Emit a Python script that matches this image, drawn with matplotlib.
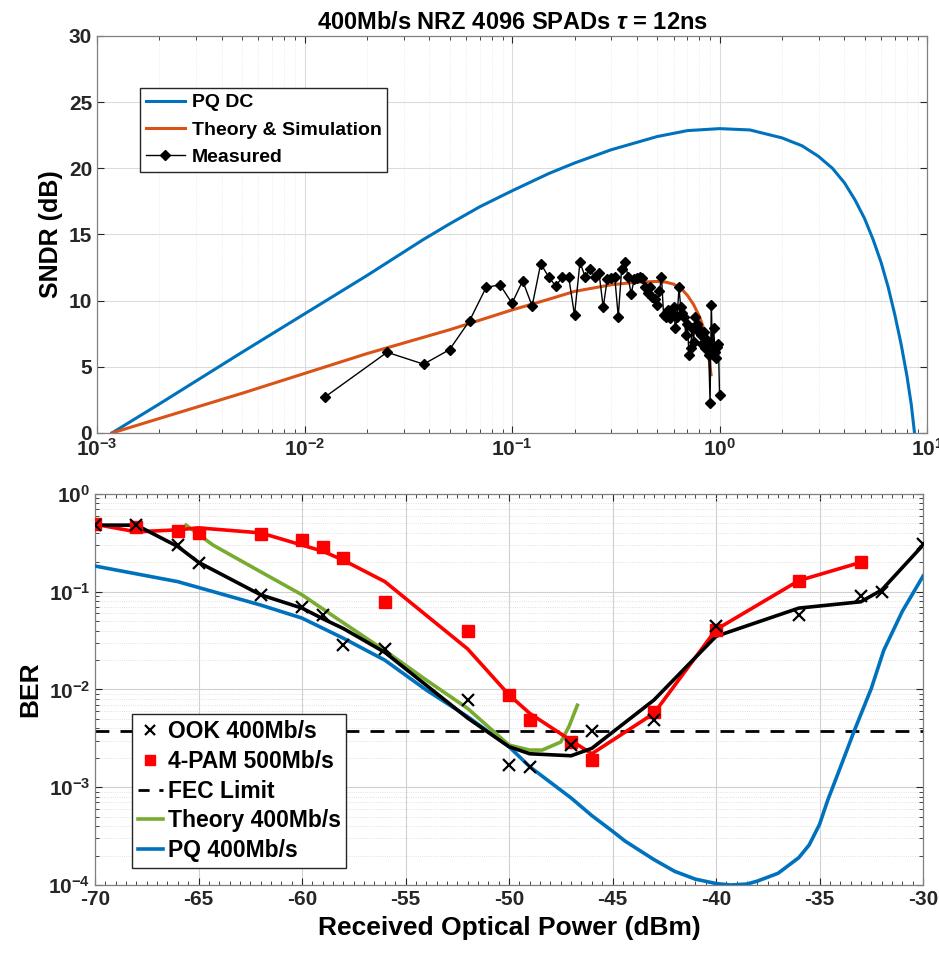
import numpy as np
import matplotlib
matplotlib.use('Agg')
import matplotlib.pyplot as plt
from matplotlib.ticker import LogLocator, MultipleLocator, NullFormatter

plt.rcParams['font.family'] = ['Liberation Sans', 'DejaVu Sans']
plt.rcParams['font.weight'] = 'bold'
plt.rcParams['mathtext.fontset'] = 'custom'
plt.rcParams['mathtext.rm'] = 'Liberation Sans:bold'
plt.rcParams['mathtext.bf'] = 'Liberation Sans:bold'
plt.rcParams['mathtext.it'] = 'Liberation Sans:italic:bold'
plt.rcParams['axes.unicode_minus'] = False

# ---- top panel: SNDR vs x (log) ----
pq_dc_x = [0.00118, 0.002, 0.005, 0.01, 0.02, 0.0372, 0.05, 0.07, 0.1, 0.15, 0.2, 0.3,
           0.5, 0.7, 1.0, 1.4, 2.0, 2.5, 3.0, 3.5, 4.0, 4.5, 5.0, 5.5, 6.0, 6.5,
           7.0, 7.5, 8.0, 8.4, 8.7]
pq_dc_y = [0.0, 2.2, 6.1, 9.0, 11.9, 14.6, 15.8, 17.1, 18.3, 19.6, 20.4, 21.4,
           22.4, 22.85, 23.0, 22.9, 22.3, 21.7, 20.9, 20.0, 18.9, 17.6, 16.2, 14.6, 12.9, 11.0,
           8.9, 6.7, 4.3, 2.1, 0.0]

theory_x = [0.00118, 0.002, 0.005, 0.01, 0.02, 0.05, 0.1, 0.15, 0.2, 0.3, 0.4, 0.5,
            0.55, 0.6, 0.65, 0.7, 0.75, 0.8, 0.83, 0.86, 0.89, 0.91]
theory_y = [0.0, 1.1, 3.0, 4.5, 6.0, 7.8, 9.3, 10.1, 10.7, 11.2, 11.4, 11.45,
            11.4, 11.25, 10.95, 10.4, 9.7, 8.8, 8.1, 7.0, 5.6, 4.4]

meas_x = [0.0125, 0.025, 0.0375, 0.05, 0.0625, 0.075, 0.0875, 0.1, 0.1125, 0.125,
          0.1375, 0.15, 0.1625, 0.175, 0.1875, 0.2, 0.2125, 0.225, 0.2375, 0.25,
          0.2625, 0.275, 0.2875, 0.3, 0.3125, 0.325, 0.3375, 0.35, 0.3625, 0.375,
          0.3875, 0.4, 0.4125, 0.425, 0.4375, 0.45, 0.4625, 0.475, 0.4875, 0.5,
          0.5125, 0.525, 0.5375, 0.55, 0.5625, 0.575, 0.5875, 0.6, 0.6125, 0.625,
          0.6375, 0.65, 0.6625, 0.675, 0.6875, 0.7, 0.7125, 0.725, 0.7375, 0.75,
          0.7625, 0.775, 0.7875, 0.8, 0.8125, 0.825, 0.8375, 0.85, 0.8625, 0.875,
          0.8875, 0.9, 0.9125, 0.925, 0.9375, 0.95, 0.9625, 0.975, 0.9875, 1.0]
meas_y = [2.7, 6.1, 5.2, 6.3, 8.5, 11.0, 11.2, 9.8, 11.5, 9.6,
          12.8, 11.8, 11.1, 11.8, 11.8, 8.9, 12.9, 11.8, 12.4, 11.8,
          12.1, 9.5, 11.6, 11.7, 11.8, 8.8, 12.4, 12.9, 11.8, 10.5,
          11.6, 11.7, 11.8, 11.7, 11.0, 10.6, 11.0, 10.3, 10.1, 9.7,
          10.7, 11.8, 8.9, 8.8, 9.3, 8.7, 9.1, 9.5, 7.9, 8.8,
          11.0, 9.5, 9.1, 8.8, 7.4, 8.2, 5.9, 6.4, 7.9, 6.9,
          8.8, 8.2, 7.9, 7.6, 7.4, 6.7, 7.6, 6.4, 7.1, 6.7,
          5.9, 2.3, 9.7, 6.2, 7.9, 6.1, 5.7, 6.5, 6.7, 2.9]

# ---- bottom panel: BER vs received power ----
ook_x = [-70, -68, -66, -65, -62, -60, -59, -58, -56, -52,
         -50, -49, -47, -46, -43, -40, -36, -33, -32, -30]
ook_ber = [0.48, 0.48, 0.30, 0.198, 0.093, 0.070, 0.058, 0.0285, 0.026, 0.0078,
           0.0017, 0.0016, 0.0027, 0.0038, 0.0049, 0.045, 0.058, 0.091, 0.10, 0.31]
ook_fit = [0.48, 0.48, 0.29, 0.20, 0.093, 0.068, 0.053, 0.042, 0.024, 0.0051,
           0.0026, 0.0022, 0.0021, 0.0025, 0.0078, 0.035, 0.068, 0.079, 0.104, 0.30]

pam_x = [-70, -68, -66, -65, -62, -60, -59, -58, -56, -52,
         -50, -49, -47, -46, -43, -40, -36, -33]
pam_ber = [0.49, 0.46, 0.42, 0.40, 0.39, 0.34, 0.29, 0.22, 0.079, 0.040,
           0.0088, 0.0049, 0.0029, 0.0019, 0.0059, 0.041, 0.13, 0.20]
pam_fit = [0.49, 0.41, 0.43, 0.45, 0.40, 0.30, 0.26, 0.21, 0.127, 0.026,
           0.0088, 0.0057, 0.0030, 0.0022, 0.0057, 0.041, 0.13, 0.20]

theory_p = [-65.6, -64.3, -62, -60, -58, -56, -54, -52, -50, -49, -48.4, -47.5, -47.1, -46.7]
theory_ber = [0.48, 0.30, 0.16, 0.093, 0.048, 0.025, 0.0125, 0.0064, 0.0027, 0.0024,
              0.0024, 0.0029, 0.0042, 0.0069]

pq_p = [-70, -66, -62, -60, -58, -56, -54, -52, -50, -49, -47, -46, -45, -44.4, -43,
        -42, -41, -40, -39.3, -38.5, -38, -37, -36, -35.5, -35, -34.6, -34, -33.3,
        -32.5, -31.9, -31, -30]
pq_log_ber = [-0.737, -0.897, -1.136, -1.27, -1.476, -1.70, -2.005, -2.278, -2.585, -2.79,
              -3.11, -3.29, -3.45, -3.55, -3.74, -3.86, -3.94, -3.985, -4.0, -3.99,
              -3.96, -3.88, -3.72, -3.59, -3.38, -3.13, -2.8, -2.41,
              -1.99, -1.60, -1.20, -0.84]

fec_limit = 3.8e-3

c_blue = '#0072BD'
c_orange = '#D95319'
c_green = '#77AC30'
c_red = '#FF0000'
c_axis = '#262626'

fig = plt.figure(figsize=(9.39, 9.65), dpi=100)
ax1 = fig.add_axes([0.1033, 0.5513, 0.884, 0.4114])
ax2 = fig.add_axes([0.1012, 0.0829, 0.8818, 0.4052])

# top
ax1.plot(pq_dc_x, pq_dc_y, color=c_blue, lw=2.2, label='PQ DC')
ax1.plot(theory_x, theory_y, color=c_orange, lw=2.2, label='Theory & Simulation')
ax1.plot(meas_x, meas_y, color='k', lw=1.0, marker='D', ms=5, label='Measured')
ax1.set_xscale('log')
ax1.set_xlim(1e-3, 1e1)
ax1.set_ylim(0, 30)
ax1.yaxis.set_major_locator(MultipleLocator(5))
ax1.set_xticks([1e-3, 1e-2, 1e-1, 1e0, 1e1])
ax1.set_xticklabels([r'$\mathbf{10^{-3}}$', r'$\mathbf{10^{-2}}$', r'$\mathbf{10^{-1}}$',
                     r'$\mathbf{10^{0}}$', r'$\mathbf{10^{1}}$'])
ax1.xaxis.set_minor_locator(LogLocator(base=10, subs=np.arange(2, 10), numticks=20))
ax1.xaxis.set_minor_formatter(NullFormatter())
ax1.grid(True, which='major', color='#dcdcdc', lw=0.8)
ax1.grid(True, which='minor', axis='x', color='#e6e6e6', lw=0.6, ls=':')
ax1.set_ylabel('SNDR (dB)', fontsize=18, fontweight='bold', labelpad=4)
ax1.set_title(r'400Mb/s NRZ 4096 SPADs $\tau$ = 12ns', fontsize=17, fontweight='bold', pad=5)
ax1.legend(loc='upper left', bbox_to_anchor=(0.052, 0.869), borderaxespad=0, fontsize=14,
           frameon=True, fancybox=False, edgecolor=c_axis, framealpha=1, handlelength=2.0,
           borderpad=0.3, labelspacing=0.5, handletextpad=0.35)

# bottom
ax2.axhline(fec_limit, color='k', lw=2.0, ls=(0, (5, 4)), label='FEC Limit', zorder=2)
ax2.plot(pq_p, 10 ** np.array(pq_log_ber), color=c_blue, lw=2.6, zorder=3)
ax2.plot(theory_p, theory_ber, color=c_green, lw=2.6, zorder=3)
ax2.plot(pam_x, pam_fit, color=c_red, lw=2.6, zorder=4)
ax2.plot(ook_x, ook_fit, color='k', lw=2.6, zorder=5)
ax2.plot(pam_x, pam_ber, ls='none', marker='s', ms=8, color=c_red, zorder=6)
ax2.plot(ook_x, ook_ber, ls='none', marker='x', ms=8, mew=1.6, color='k', zorder=7)
ax2.set_yscale('log')
ax2.set_xlim(-70, -30)
ax2.set_ylim(1e-4, 1)
ax2.xaxis.set_major_locator(MultipleLocator(5))
ax2.xaxis.set_minor_locator(MultipleLocator(0.5))
ax2.set_yticks([1e-4, 1e-3, 1e-2, 1e-1, 1e0])
ax2.set_yticklabels([r'$\mathbf{10^{-4}}$', r'$\mathbf{10^{-3}}$', r'$\mathbf{10^{-2}}$',
                     r'$\mathbf{10^{-1}}$', r'$\mathbf{10^{0}}$'])
ax2.yaxis.set_minor_locator(LogLocator(base=10, subs=np.arange(2, 10), numticks=20))
ax2.yaxis.set_minor_formatter(NullFormatter())
ax2.grid(True, which='major', color='#d0d0d0', lw=0.8)
ax2.grid(True, which='minor', axis='y', color='#d8d8d8', lw=0.6, ls=':')
ax2.set_ylabel('BER', fontsize=19, fontweight='bold', labelpad=4)
ax2.set_xlabel('Received Optical Power (dBm)', fontsize=19, fontweight='bold', labelpad=5)

h_ook = plt.Line2D([], [], ls='none', marker='x', ms=7, mew=1.6, color='k')
h_pam = plt.Line2D([], [], ls='none', marker='s', ms=7, color=c_red)
h_fec = plt.Line2D([], [], color='k', lw=2.0, ls=(0, (4, 3.5)))
h_th = plt.Line2D([], [], color=c_green, lw=2.6)
h_pq = plt.Line2D([], [], color=c_blue, lw=2.6)
ax2.legend([h_ook, h_pam, h_fec, h_th, h_pq],
           ['OOK 400Mb/s', '4-PAM 500Mb/s', 'FEC Limit', 'Theory 400Mb/s', 'PQ 400Mb/s'],
           loc='upper left', bbox_to_anchor=(0.0447, 0.437), borderaxespad=0, fontsize=16.5,
           frameon=True, fancybox=False, edgecolor=c_axis, framealpha=1, handlelength=1.1,
           borderpad=0.25, labelspacing=0.3, handletextpad=0.2)

for ax in (ax1, ax2):
    ax.tick_params(which='both', direction='in', top=True, right=True, colors=c_axis,
                   labelsize=15)
    ax.tick_params(which='major', length=5)
    ax.tick_params(which='minor', length=3)
    for s in ax.spines.values():
        s.set_color('#808080')
        s.set_linewidth(0.9)
    for lab in ax.get_xticklabels() + ax.get_yticklabels():
        lab.set_fontweight('bold')

fig.savefig('out.png', dpi=100)
